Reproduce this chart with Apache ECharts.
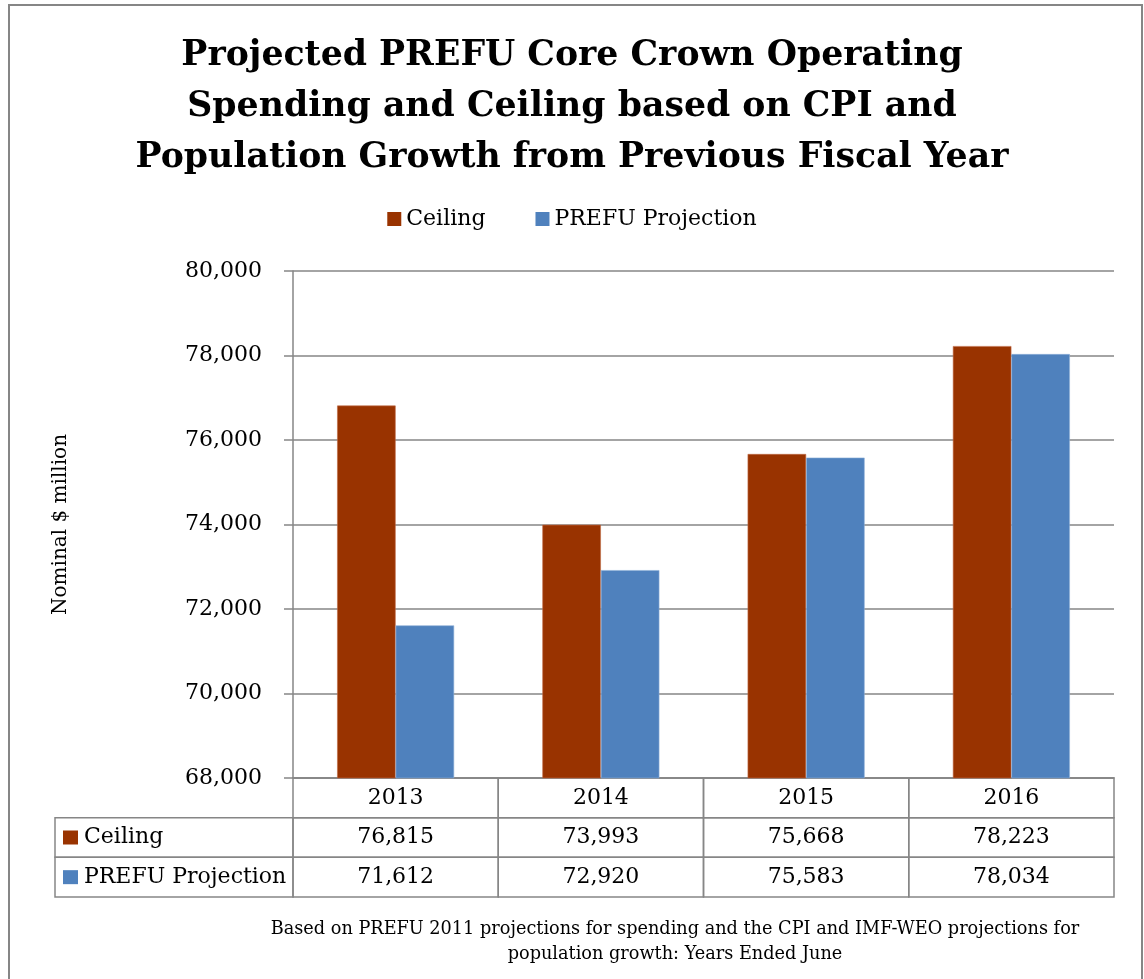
<!DOCTYPE html>
<html>
<head>
<meta charset="utf-8">
<script src="https://cdn.jsdelivr.net/npm/echarts@6/dist/echarts.min.js"></script>
<style>
  html, body { margin: 0; padding: 0; background: #fff; }
  #chart { width: 1144px; height: 979px; }
</style>
</head>
<body>
<div id="chart"></div>
<script>
// Fiscal years (years ended June)
const years = ['2013', '2014', '2015', '2016'];
// Core Crown operating spending, nominal $ million
const ceiling = [76815, 73993, 75668, 78223];
const prefuProjection = [71612, 72920, 75583, 78034];
const seriesNames = ['Ceiling', 'PREFU Projection'];
const seriesColors = ['#993300', '#4F81BD'];
// Value axis range
const yMin = 68000, yMax = 80000, yStep = 2000;

const titleText = 'Projected PREFU Core Crown Operating\nSpending and Ceiling based on CPI and\nPopulation Growth from Previous Fiscal Year';
const noteText = 'Based on PREFU 2011 projections for spending and the CPI and IMF-WEO projections for\npopulation growth: Years Ended June';

const SERIF = '"DejaVu Serif", "Liberation Serif", serif';
const GRAY = '#868686';

const fmt = v => v.toLocaleString('en-US');

// Data table under the plot: header row with the years, then one row per series
const rowValues = [ceiling, prefuProjection];
const cells = [];
years.forEach((y, i) => {
  cells.push({ col: i, row: 0, text: y });
  rowValues.forEach((vals, r) => cells.push({ col: i, row: r + 1, text: fmt(vals[i]) }));
});

const LABEL_COL_W = 238;

function renderCell(params, api) {
  const cell = cells[params.dataIndex];
  const c = api.coord([api.value(0), api.value(1)]);
  const s = api.size([1, 1]);
  const x0 = c[0] - s[0] / 2, y0 = c[1] - s[1] / 2;
  const children = [
    { type: 'rect', shape: { x: x0, y: y0, width: s[0], height: s[1] },
      style: { fill: null, stroke: GRAY, lineWidth: 1.5 } },
    { type: 'text', style: { x: c[0], y: c[1], text: cell.text, align: 'center', verticalAlign: 'middle',
      font: '22px ' + SERIF, fill: '#000' } }
  ];
  // Row label cells with their colour keys sit left of the first column
  if (cell.col === 0 && cell.row > 0) {
    const lx = params.coordSys.x - LABEL_COL_W;
    children.push(
      { type: 'rect', shape: { x: lx, y: y0, width: LABEL_COL_W, height: s[1] },
        style: { fill: null, stroke: GRAY, lineWidth: 1.5 } },
      { type: 'rect', shape: { x: lx + 8, y: c[1] - 7, width: 15, height: 14 },
        style: { fill: seriesColors[cell.row - 1] } },
      { type: 'text', style: { x: lx + 29, y: c[1], text: seriesNames[cell.row - 1], align: 'left',
        verticalAlign: 'middle', font: '22px ' + SERIF, fill: '#000' } }
    );
  }
  return { type: 'group', children };
}

const chart = echarts.init(document.getElementById('chart'), null, { renderer: 'canvas' });

chart.setOption({
  backgroundColor: '#fff',
  animation: false,
  title: {
    text: titleText,
    left: 'center',
    top: 25,
    textStyle: { fontFamily: SERIF, fontWeight: 'bold', fontSize: 34.7, lineHeight: 51, color: '#000' }
  },
  legend: {
    data: seriesNames,
    top: 203,
    left: 'center',
    icon: 'rect',
    itemWidth: 14,
    itemHeight: 14,
    itemGap: 50,
    itemStyle: { borderWidth: 0 },
    textStyle: { fontFamily: SERIF, fontSize: 22, color: '#000' }
  },
  grid: [
    { left: 293, top: 271, width: 821, height: 507 },
    { left: 293, top: 778, width: 821, height: 119 }
  ],
  xAxis: [
    { type: 'category', gridIndex: 0, data: years,
      axisLine: { lineStyle: { color: GRAY, width: 1.5 } },
      axisTick: { show: false }, axisLabel: { show: false } },
    { type: 'category', gridIndex: 1, data: years,
      axisLine: { show: false }, axisTick: { show: false }, axisLabel: { show: false } }
  ],
  yAxis: [
    { type: 'value', gridIndex: 0, min: yMin, max: yMax, interval: yStep,
      name: 'Nominal $ million', nameLocation: 'middle', nameGap: 222,
      nameTextStyle: { fontFamily: SERIF, fontSize: 20, color: '#000' },
      axisLine: { show: true, lineStyle: { color: GRAY, width: 1.5 } },
      axisTick: { show: true, length: 9, lineStyle: { color: GRAY, width: 1.5 } },
      axisLabel: { margin: 31, fontFamily: SERIF, fontSize: 22, color: '#000', formatter: v => fmt(v) },
      splitLine: { lineStyle: { color: GRAY, width: 1.6 } } },
    { type: 'category', gridIndex: 1, inverse: true, data: ['year', 'Ceiling', 'PREFU Projection'],
      axisLine: { show: false }, axisTick: { show: false }, axisLabel: { show: false } }
  ],
  series: [
    { name: seriesNames[0], type: 'bar', xAxisIndex: 0, yAxisIndex: 0, data: ceiling,
      barWidth: 58.5, barGap: '0%',
      itemStyle: { color: seriesColors[0], borderColor: '#c06a45', borderWidth: 0.6 } },
    { name: seriesNames[1], type: 'bar', xAxisIndex: 0, yAxisIndex: 0, data: prefuProjection,
      barWidth: 58.5, barGap: '0%',
      itemStyle: { color: seriesColors[1], borderColor: '#8fb0d8', borderWidth: 0.6 } },
    { type: 'custom', xAxisIndex: 1, yAxisIndex: 1, silent: true,
      data: cells.map(c => [c.col, c.row]),
      renderItem: renderCell }
  ],
  graphic: [
    // Chart frame
    { type: 'rect', shape: { x: 9, y: 5, width: 1133, height: 1000 },
      style: { fill: null, stroke: GRAY, lineWidth: 2 }, silent: true },
    // Source note
    { type: 'text', x: 675, y: 917, silent: true,
      style: { text: noteText, align: 'center', verticalAlign: 'top', font: '17.7px ' + SERIF,
        lineHeight: 25, fill: '#000' } }
  ]
});
</script>
</body>
</html>
